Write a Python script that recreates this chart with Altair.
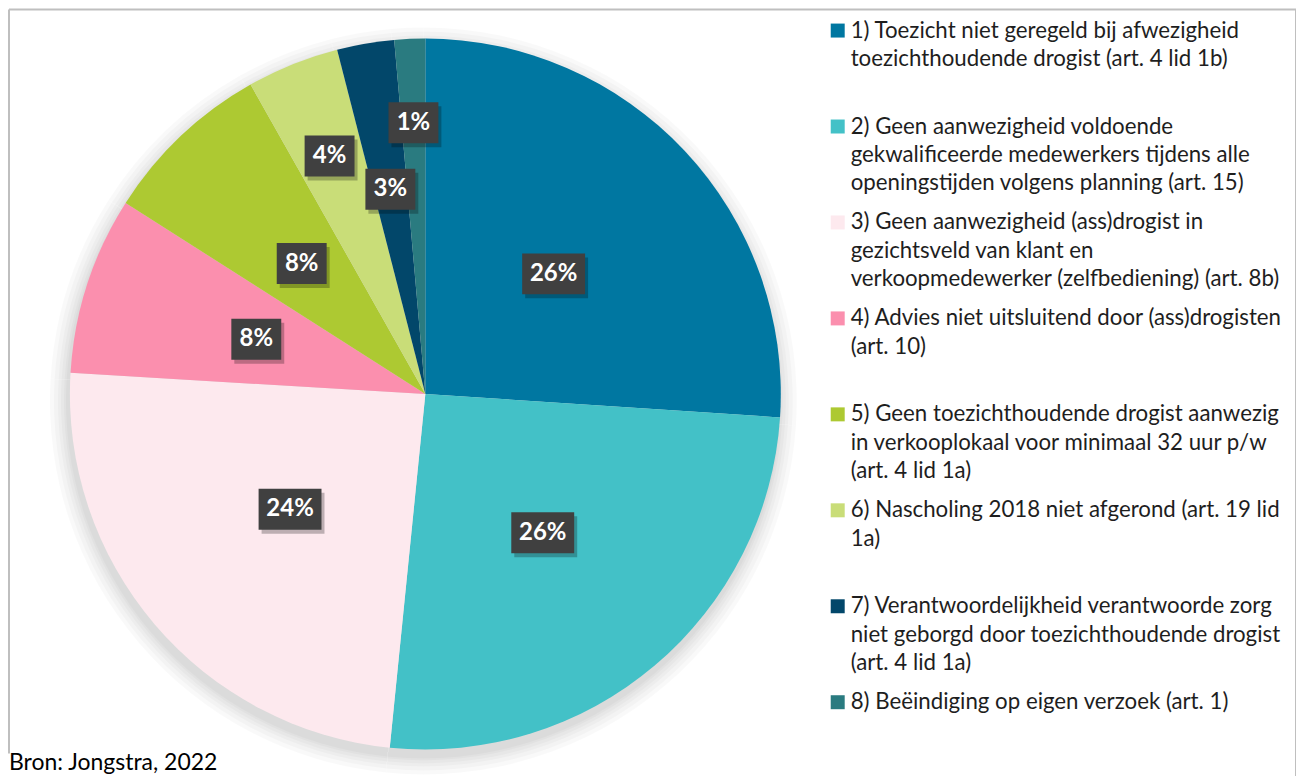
import altair as alt
import pandas as pd

categories = [
    "1) Toezicht niet geregeld bij afwezigheid toezichthoudende drogist (art. 4 lid 1b)",
    "2) Geen aanwezigheid voldoende gekwalificeerde medewerkers tijdens alle openingstijden volgens planning (art. 15)",
    "3) Geen aanwezigheid (ass)drogist in gezichtsveld van klant en verkoopmedewerker (zelfbediening) (art. 8b)",
    "4) Advies niet uitsluitend door (ass)drogisten (art. 10)",
    "5) Geen toezichthoudende drogist aanwezig in verkooplokaal voor minimaal 32 uur p/w (art. 4 lid 1a)",
    "6) Nascholing 2018 niet afgerond (art. 19 lid 1a)",
    "7) Verantwoordelijkheid verantwoorde zorg niet geborgd door toezichthoudende drogist (art. 4 lid 1a)",
    "8) Beëindiging op eigen verzoek (art. 1)",
]
legend_lines = [
    ["1) Toezicht niet geregeld bij afwezigheid", "toezichthoudende drogist (art. 4 lid 1b)"],
    ["2) Geen aanwezigheid voldoende", "gekwalificeerde medewerkers tijdens alle", "openingstijden volgens planning (art. 15)"],
    ["3) Geen aanwezigheid (ass)drogist in", "gezichtsveld van klant en", "verkoopmedewerker (zelfbediening) (art. 8b)"],
    ["4) Advies niet uitsluitend door (ass)drogisten", "(art. 10)"],
    ["5) Geen toezichthoudende drogist aanwezig", "in verkooplokaal voor minimaal 32 uur p/w", "(art. 4 lid 1a)"],
    ["6) Nascholing 2018 niet afgerond (art. 19 lid", "1a)"],
    ["7) Verantwoordelijkheid verantwoorde zorg", "niet geborgd door toezichthoudende drogist", "(art. 4 lid 1a)"],
    ["8) Beëindiging op eigen verzoek (art. 1)"],
]
values = [26.1, 25.6, 24.4, 8.1, 7.8, 4.2, 2.6, 1.4]
colors = ["#0077A1", "#43C1C7", "#FDE9EE", "#FB8FAE", "#ADC932", "#C9DD78", "#02476A", "#2A7B80"]
label_radius = [176, 182, 178, 178, 180, 257, 208, 272]
source_text = "Bron: Jongstra, 2022"

df = pd.DataFrame({
    "idx": list(range(len(categories))),
    "cat": categories,
    "value": values,
    "lr": label_radius,
    "lines": ["\n".join(l) for l in legend_lines],
})
one = pd.DataFrame({"a": [0]})

W, H = 1290, 768
CX, CY, R = 417, 385, 356
FONT = "Lato"

color = alt.Color("cat:N", scale=alt.Scale(domain=categories, range=colors), legend=None)

# soft shadow behind the pie
shadows = [
    alt.Chart(df).mark_arc(outerRadius=R + k, color="black", opacity=0.022).encode(
        theta=alt.Theta("value:Q"), x=alt.value(CX - 2), y=alt.value(CY + 7)
    )
    for k in (18, 14, 10, 7, 4, 2)
]

pie = alt.Chart(df).mark_arc(outerRadius=R).encode(
    theta=alt.Theta("value:Q", stack=True),
    order=alt.Order("idx:Q"),
    color=color,
    x=alt.value(CX),
    y=alt.value(CY),
)

lab = alt.Chart(df).transform_joinaggregate(
    total="sum(value)"
).transform_window(
    cum="sum(value)", sort=[alt.SortField("idx", order="ascending")], frame=[None, 0]
).transform_calculate(
    mid="(datum.cum - datum.value / 2) / datum.total * 2 * PI",
    lx=f"{CX} + datum.lr * sin(datum.mid)",
    ly=f"{CY} - datum.lr * cos(datum.mid)",
    label="format(datum.value / datum.total * 100, '.0f') + '%'",
).transform_calculate(
    hw="(length(datum.label) * 13 + 24) / 2",
).transform_calculate(
    x0="datum.lx - datum.hw",
    x1="datum.lx + datum.hw",
    y0="datum.ly - 20.5",
    y1="datum.ly + 20.5",
)

box_shadow = lab.mark_rect(color="black", opacity=0.25, xOffset=3, x2Offset=3, yOffset=4, y2Offset=4).encode(
    x=alt.X("x0:Q", scale=None), x2="x1:Q", y=alt.Y("y0:Q", scale=None), y2="y1:Q"
)
box = lab.mark_rect(color="#404040").encode(
    x=alt.X("x0:Q", scale=None), x2="x1:Q", y=alt.Y("y0:Q", scale=None), y2="y1:Q"
)
box_text = lab.mark_text(color="white", font=FONT, fontWeight="bold", fontSize=24,
                         align="center", baseline="middle").encode(
    x=alt.X("lx:Q", scale=None), y=alt.Y("ly:Q", scale=None), text="label:N"
)

leg_y = alt.Y("idx:O", scale=alt.Scale(type="point", range=[28, 28 + 7 * 96.1], padding=0), axis=None)
leg_sq = alt.Chart(df).mark_square(size=196, opacity=1, yOffset=-7).encode(
    x=alt.value(830), y=leg_y, color=color
)
leg_txt = alt.Chart(df).mark_text(align="left", baseline="alphabetic", font=FONT, fontSize=22.3,
                                  lineHeight=28.5, lineBreak="\n", color="#1E1E1E").encode(
    x=alt.value(843), y=leg_y, text="lines:N"
)

border_top = alt.Chart(one).mark_rule(color="#BFBFBF", strokeWidth=2).encode(
    x=alt.value(0), x2=alt.value(W), y=alt.value(0)
)
border_left = alt.Chart(one).mark_rule(color="#BFBFBF", strokeWidth=2).encode(
    x=alt.value(0), y=alt.value(0), y2=alt.value(745)
)
border_right = alt.Chart(one).mark_rule(color="#BFBFBF", strokeWidth=2).encode(
    x=alt.value(W - 1), y=alt.value(0), y2=alt.value(H)
)
source = alt.Chart(one).mark_text(align="left", baseline="alphabetic", font=FONT, fontSize=23,
                                  color="#000000").encode(
    x=alt.value(0), y=alt.value(762), text=alt.value(source_text)
)

chart = alt.layer(
    *shadows, pie, box_shadow, box, box_text, leg_sq, leg_txt,
    border_top, border_left, border_right, source
).resolve_scale(
    x="independent", y="independent"
).properties(
    width=W, height=H, padding=0,
    autosize=alt.AutoSizeParams(type="fit", contains="padding"),
).configure_view(stroke=None)

chart.save("out.html", embed_options={"renderer": "svg", "actions": False})
